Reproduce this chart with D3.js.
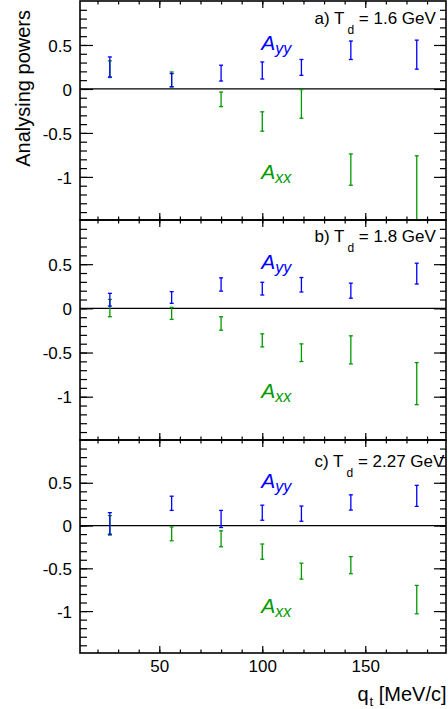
<!DOCTYPE html>
<html>
<head>
<meta charset="utf-8">
<script src="https://cdn.jsdelivr.net/npm/d3@7"></script>
<style>
  body { margin: 0; background: #fff; }
  svg { display: block; font-family: 'Liberation Sans', Arial, Helvetica, sans-serif; }
  .axis path.domain { display: none; }
  .axis line { stroke: #000; stroke-width: 1.2; }
  .axis text { font-size: 17px; fill: #000; font-family: 'Liberation Sans', Arial, sans-serif; }
</style>
</head>
<body>
<svg id="chart" width="448" height="709"></svg>
<script>
// transverse momentum bins, MeV/c
const qt = [26, 56, 80, 100, 119, 143, 175];

// a) Td = 1.6 GeV
const ayy16 = [0.25, 0.10, 0.18, 0.21, 0.245, 0.44, 0.39];
const ayy16Err = [0.114, 0.075, 0.09, 0.097, 0.09, 0.105, 0.165];
const axx16 = [0.225, 0.108, -0.118, -0.37, -0.17, -0.917, -1.28];
const axx16Err = [0.095, 0.085, 0.083, 0.11, 0.163, 0.178, 0.52];

// b) Td = 1.8 GeV
const ayy18 = [0.098, 0.123, 0.27, 0.223, 0.267, 0.2, 0.393];
const ayy18Err = [0.072, 0.066, 0.075, 0.072, 0.082, 0.085, 0.118];
const axx18 = [0.003, -0.057, -0.171, -0.362, -0.502, -0.47, -0.852];
const axx18Err = [0.098, 0.068, 0.076, 0.074, 0.1, 0.159, 0.238];

// c) Td = 2.27 GeV
const ayy227 = [0.025, 0.26, 0.077, 0.15, 0.139, 0.27, 0.347];
const ayy227Err = [0.126, 0.083, 0.1, 0.088, 0.089, 0.089, 0.123];
const axx227 = [0.002, -0.097, -0.155, -0.305, -0.533, -0.463, -0.866];
const axx227Err = [0.114, 0.081, 0.093, 0.089, 0.093, 0.1, 0.166];

const panelTags = ['a)', 'b)', 'c)'];
const beamEnergies = ['1.6', '1.8', '2.27'];
const yTickValues = [-1, -0.5, 0, 0.5];
const xTickValues = [50, 100, 150];

const panels = [
    { tag: panelTags[0], energy: beamEnergies[0], ayy: ayy16, ayyErr: ayy16Err, axx: axx16, axxErr: axx16Err },
    { tag: panelTags[1], energy: beamEnergies[1], ayy: ayy18, ayyErr: ayy18Err, axx: axx18, axxErr: axx18Err },
    { tag: panelTags[2], energy: beamEnergies[2], ayy: ayy227, ayyErr: ayy227Err, axx: axx227, axxErr: axx227Err }
];

const blue = '#0000ff';
const green = '#009a00';

const left = 80;
const width = 366;
// pad extents on the canvas (top, bottom) and where the Td label sits
const bounds = [[1, 220], [220, 440], [440, 653]];
const tagOffset = [22.5, 22, 26.5];

const svg = d3.select('#chart');

const x = d3.scaleLinear().domain([11.5, 189.2]).range([0, width]);
const xMinor = d3.range(20, 190, 10);
const yMinor = d3.range(-14, 10).map((i) => i / 10);

panels.forEach((p, idx) => {
    const top = bounds[idx][0];
    const h = bounds[idx][1] - top;
    const y = d3.scaleLinear().domain([-1.49, 1.0]).range([h, 0]);
    const last = idx === panels.length - 1;

    const g = svg.append('g').attr('transform', `translate(${left}, ${top})`);

    g.append('clipPath').attr('id', `clip${idx}`)
        .append('rect').attr('width', width).attr('height', h);

    // Axes: ticks on all four sides, pointing inwards
    g.append('g').attr('class', 'axis')
        .call(d3.axisLeft(y).tickValues(yMinor).tickSize(-7).tickFormat(''));
    g.append('g').attr('class', 'axis')
        .call(d3.axisLeft(y).tickValues(yTickValues).tickSize(-13).tickPadding(8).tickFormat((d) => String(d)))
        .selectAll('text').attr('dy', '0.36em');
    g.append('g').attr('class', 'axis').attr('transform', `translate(${width}, 0)`)
        .call(d3.axisRight(y).tickValues(yMinor).tickSize(-6).tickFormat(''));
    g.append('g').attr('class', 'axis').attr('transform', `translate(${width}, 0)`)
        .call(d3.axisRight(y).tickValues(yTickValues).tickSize(-12).tickFormat(''));

    g.append('g').attr('class', 'axis').attr('transform', `translate(0, ${h})`)
        .call(d3.axisBottom(x).tickValues(xMinor).tickSize(-3.5).tickFormat(''));
    g.append('g').attr('class', 'axis').attr('transform', `translate(0, ${h})`)
        .call(d3.axisBottom(x).tickValues(xTickValues).tickSize(-7).tickPadding(7)
            .tickFormat((d) => last ? String(d) : ''));
    g.append('g').attr('class', 'axis')
        .call(d3.axisTop(x).tickValues(xMinor).tickSize(-3.5).tickFormat(''));
    g.append('g').attr('class', 'axis')
        .call(d3.axisTop(x).tickValues(xTickValues).tickSize(-7).tickFormat(''));

    g.append('line')
        .attr('x1', 0).attr('x2', width)
        .attr('y1', y(0)).attr('y2', y(0))
        .attr('stroke', '#000').attr('stroke-width', 1.3);

    const plot = g.append('g').attr('clip-path', `url(#clip${idx})`);

    const series = [
        { values: p.axx, errors: p.axxErr, color: green },
        { values: p.ayy, errors: p.ayyErr, color: blue }
    ];

    series.forEach((s) => {
        const pts = qt.map((q, i) => ({ q: q, lo: s.values[i] - s.errors[i], hi: s.values[i] + s.errors[i] }));
        const bars = plot.append('g').attr('stroke', s.color).attr('stroke-width', 1.3);
        bars.selectAll('line.bar').data(pts).enter().append('line').attr('class', 'bar')
            .attr('x1', (d) => x(d.q)).attr('x2', (d) => x(d.q))
            .attr('y1', (d) => y(d.lo)).attr('y2', (d) => y(d.hi));
        bars.selectAll('line.cap').data(pts.flatMap((d) => [{ q: d.q, v: d.lo }, { q: d.q, v: d.hi }]))
            .enter().append('line').attr('class', 'cap')
            .attr('x1', (d) => x(d.q) - 2).attr('x2', (d) => x(d.q) + 2)
            .attr('y1', (d) => y(d.v)).attr('y2', (d) => y(d.v));
    });

    // series names
    const yyLabel = g.append('text')
        .attr('x', x(99.5)).attr('y', y(0.44))
        .attr('fill', blue).attr('font-style', 'italic').attr('font-size', 21);
    yyLabel.append('tspan').text('A');
    yyLabel.append('tspan').attr('font-size', 16).attr('dy', 4).text('yy');

    const xxLabel = g.append('text')
        .attr('x', x(99.5)).attr('y', y(-1.02))
        .attr('fill', green).attr('font-style', 'italic').attr('font-size', 21);
    xxLabel.append('tspan').text('A');
    xxLabel.append('tspan').attr('font-size', 16).attr('dy', 4).text('xx');

    const tag = g.append('text')
        .attr('x', 234.5).attr('y', tagOffset[idx])
        .attr('font-size', 17).attr('fill', '#000');
    tag.append('tspan').text(`${p.tag} T`);
    tag.append('tspan').attr('font-size', 12).attr('dx', 3).attr('dy', 10).text('d');
    tag.append('tspan').attr('dy', -10).text(` = ${p.energy} GeV`);

    g.append('rect')
        .attr('width', width).attr('height', h)
        .attr('fill', 'none').attr('stroke', '#000').attr('stroke-width', 1.6);
});

// Axis titles
svg.append('text')
    .attr('transform', 'translate(30, 10) rotate(-90)')
    .attr('text-anchor', 'end')
    .attr('font-size', 20)
    .text('Analysing powers');

const xTitle = svg.append('text')
    .attr('x', 446.5).attr('y', 701)
    .attr('text-anchor', 'end')
    .attr('font-size', 20);
xTitle.append('tspan').text('q');
xTitle.append('tspan').attr('font-size', 13).attr('dx', 1).attr('dy', 5).text('t');
xTitle.append('tspan').attr('dy', -5).text(' [MeV/c]');
</script>
</body>
</html>
